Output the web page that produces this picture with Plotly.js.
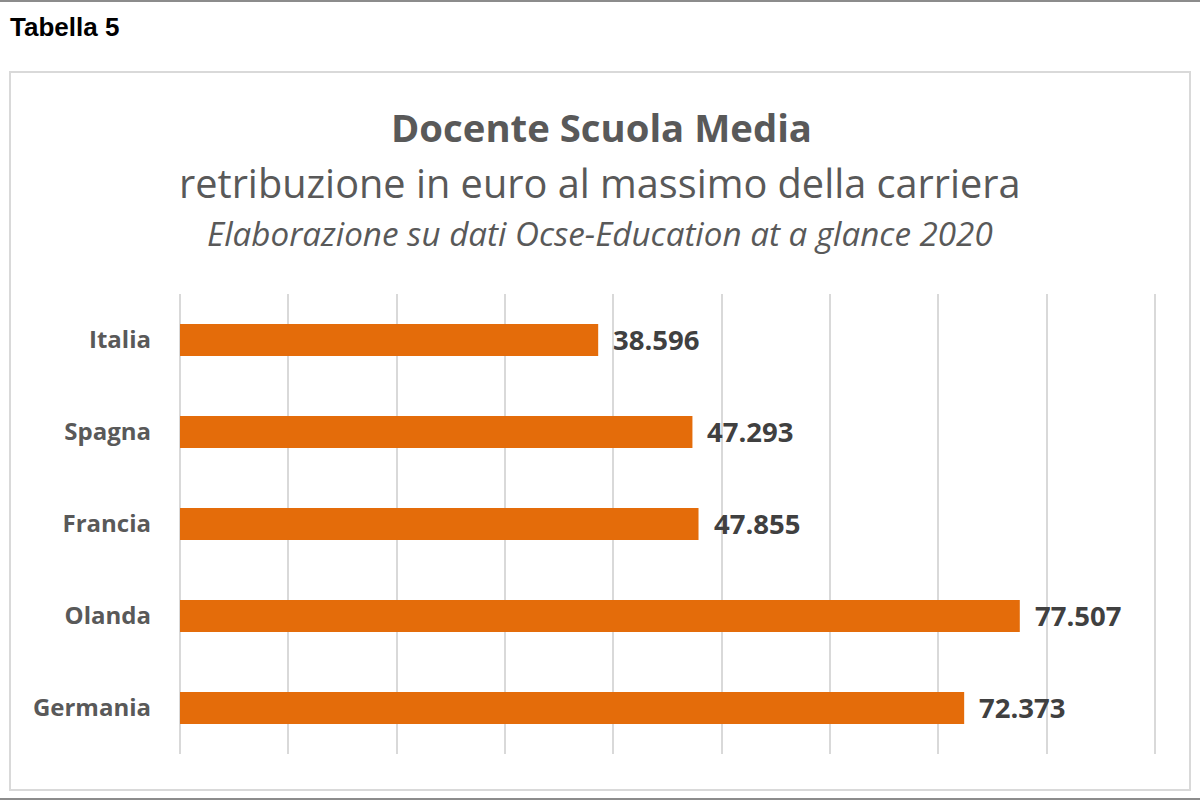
<!DOCTYPE html>
<html>
<head>
<meta charset="utf-8">
<script src="https://cdn.plot.ly/plotly-3.0.1.min.js"></script>
<style>html,body{margin:0;padding:0;background:#fff}#chart{width:1200px;height:800px}</style>
</head>
<body>
<div id="chart"></div>
<script>
const countries = ["Italia", "Spagna", "Francia", "Olanda", "Germania"];
const salaries = [38596, 47293, 47855, 77507, 72373];
const gridTicks = [0, 10000, 20000, 30000, 40000, 50000, 60000, 70000, 80000, 90000];

function fmtIt(v) {
  return String(v).replace(/\B(?=(\d{3})+(?!\d))/g, ".");
}

const W = 1200, H = 800, L = 180, R = 34, T = 294, B = 46;
const pw = W - L - R, ph = H - T - B;
const px = x => (x - L) / pw;
const py = y => 1 - (y - T) / ph;

const trace = {
  type: "bar",
  orientation: "h",
  x: salaries,
  y: countries,
  width: 0.35,
  marker: {color: "#E46C0A"},
  hoverinfo: "skip"
};

const valueLabels = countries.map((c, i) => ({
  x: salaries[i], y: c, xref: "x", yref: "y",
  text: "<b>" + fmtIt(salaries[i]) + "</b>", showarrow: false,
  xanchor: "left", yanchor: "middle", xshift: 13, yshift: 1,
  font: {family: "Open Sans, sans-serif", size: 27.5, color: "#404040"}
}));

const layout = {
  width: W, height: H,
  margin: {l: L, r: R, t: T, b: B},
  paper_bgcolor: "#fff", plot_bgcolor: "#fff",
  showlegend: false,
  xaxis: {
    range: [0, 91000], tickvals: gridTicks, showticklabels: false,
    showgrid: true, gridcolor: "#D9D9D9", gridwidth: 2,
    zeroline: true, zerolinecolor: "#D9D9D9", zerolinewidth: 2,
    showline: false, fixedrange: true
  },
  yaxis: {
    autorange: "reversed", showgrid: false, zeroline: false, showline: false,
    ticks: "", ticklabelstandoff: 28,
    tickfont: {family: "Open Sans, sans-serif", size: 24, color: "#595959", weight: 700}
  },
  shapes: [
    {type: "line", xref: "paper", yref: "paper", x0: px(0), x1: px(1200), y0: py(1), y1: py(1),
     line: {color: "#8C8C8C", width: 2}, layer: "below"},
    {type: "line", xref: "paper", yref: "paper", x0: px(0), x1: px(1200), y0: py(799), y1: py(799),
     line: {color: "#8C8C8C", width: 2}, layer: "below"},
    {type: "rect", xref: "paper", yref: "paper", x0: px(10), x1: px(1190), y0: py(72), y1: py(790),
     line: {color: "#D9D9D9", width: 2}, fillcolor: "rgba(0,0,0,0)", layer: "below"}
  ],
  annotations: [
    {xref: "paper", yref: "paper", x: px(8), y: py(27), xanchor: "left", yanchor: "middle",
     showarrow: false, text: "<b>Tabella 5</b>",
     font: {family: "Liberation Sans, Arial, sans-serif", size: 26, color: "#000"}},
    {xref: "paper", yref: "paper", x: px(601), y: py(127), xanchor: "center", yanchor: "middle",
     showarrow: false, text: "<b>Docente Scuola Media</b>",
     font: {family: "Open Sans, sans-serif", size: 38.3, color: "#595959"}},
    {xref: "paper", yref: "paper", x: px(600), y: py(183), xanchor: "center", yanchor: "middle",
     showarrow: false, text: "retribuzione in euro al massimo della carriera",
     font: {family: "Open Sans, sans-serif", size: 39.7, color: "#595959"}},
    {xref: "paper", yref: "paper", x: px(600), y: py(233), xanchor: "center", yanchor: "middle",
     showarrow: false, text: "<i>Elaborazione su dati Ocse-Education at a glance 2020</i>",
     font: {family: "Open Sans, sans-serif", size: 33.2, color: "#595959"}}
  ].concat(valueLabels)
};

Plotly.newPlot("chart", [trace], layout, {staticPlot: true, displayModeBar: false});
</script>
</body>
</html>
